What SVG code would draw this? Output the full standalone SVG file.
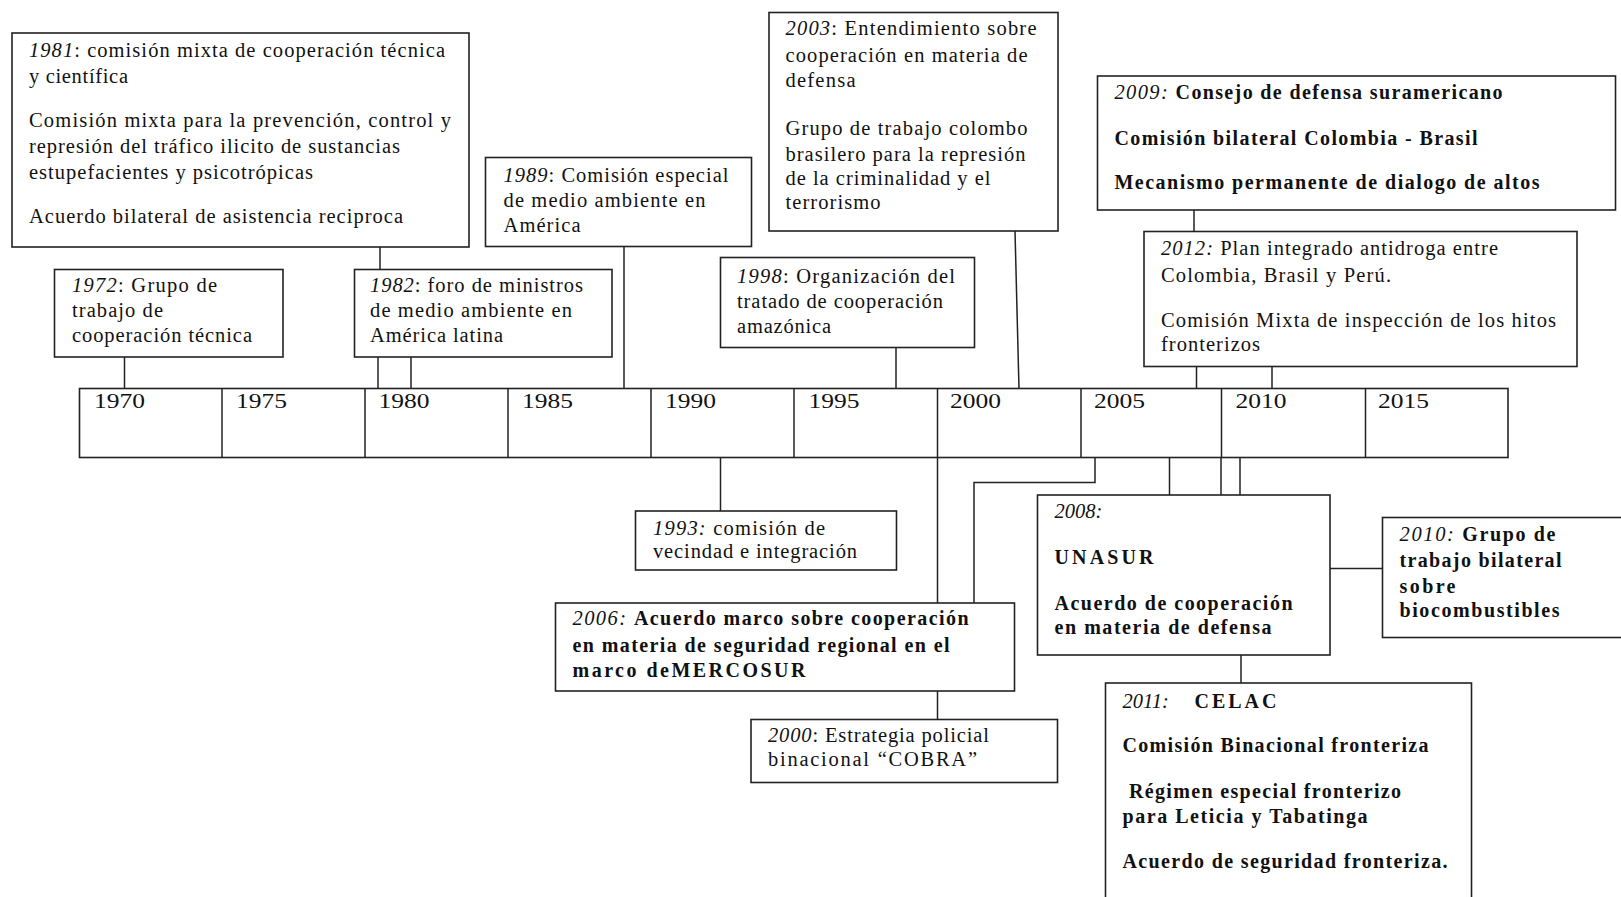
<svg xmlns="http://www.w3.org/2000/svg" width="1621" height="897" viewBox="0 0 1621 897">
<style>
rect.b{fill:#fff;stroke:#222;stroke-width:1.6}
.c line,.c polyline{stroke:#222;stroke-width:1.5;fill:none}
text{font-family:"Liberation Serif","Times New Roman",serif;font-size:20.5px;fill:#111}
text.y{font-size:22px}
.i{font-style:italic}
.bd{font-weight:bold;font-size:20px}
</style>
<rect width="1621" height="897" fill="#fff"/>
<g class="c" id="connectors">
<line x1="124.5" y1="357" x2="124.5" y2="389"/>
<line x1="380" y1="247" x2="380" y2="269"/>
<line x1="378" y1="357" x2="378" y2="390"/>
<line x1="411" y1="357" x2="411" y2="389"/>
<line x1="624" y1="247" x2="624" y2="389"/>
<line x1="896" y1="348" x2="896" y2="389"/>
<line x1="1015" y1="231" x2="1019" y2="389"/>
<line x1="1194" y1="210" x2="1194" y2="232"/>
<line x1="1196.5" y1="367" x2="1196.5" y2="390"/>
<line x1="1272" y1="367" x2="1272" y2="389"/>
<line x1="720.5" y1="457" x2="720.5" y2="511"/>
<line x1="937.5" y1="457" x2="937.5" y2="603"/>
<line x1="937.5" y1="691" x2="937.5" y2="719"/>
<polyline points="1095,457 1095,482.5 974,482.5 974,603"/>
<line x1="1169.5" y1="457" x2="1169.5" y2="495"/>
<line x1="1221" y1="457" x2="1221" y2="495"/>
<line x1="1240" y1="457" x2="1240" y2="495"/>
<line x1="1330" y1="568.5" x2="1382" y2="568.5"/>
<line x1="1241" y1="655" x2="1241" y2="683"/>
</g>
<g id="timeline">
<rect class="b" x="79.5" y="388.5" width="1428.5" height="69"/>
<g class="c">
<line x1="222" y1="388.5" x2="222" y2="457.5"/>
<line x1="365" y1="388.5" x2="365" y2="457.5"/>
<line x1="508" y1="388.5" x2="508" y2="457.5"/>
<line x1="651" y1="388.5" x2="651" y2="457.5"/>
<line x1="794" y1="388.5" x2="794" y2="457.5"/>
<line x1="937.5" y1="388.5" x2="937.5" y2="457.5"/>
<line x1="1081" y1="388.5" x2="1081" y2="457.5"/>
<line x1="1221.5" y1="388.5" x2="1221.5" y2="457.5"/>
<line x1="1365.5" y1="388.5" x2="1365.5" y2="457.5"/>
</g>
<text class="y" x="94" y="408" textLength="51" lengthAdjust="spacingAndGlyphs">1970</text>
<text class="y" x="236" y="408" textLength="51" lengthAdjust="spacingAndGlyphs">1975</text>
<text class="y" x="378.5" y="408" textLength="51" lengthAdjust="spacingAndGlyphs">1980</text>
<text class="y" x="522" y="408" textLength="51" lengthAdjust="spacingAndGlyphs">1985</text>
<text class="y" x="665" y="408" textLength="51" lengthAdjust="spacingAndGlyphs">1990</text>
<text class="y" x="808.5" y="408" textLength="51" lengthAdjust="spacingAndGlyphs">1995</text>
<text class="y" x="950" y="408" textLength="51" lengthAdjust="spacingAndGlyphs">2000</text>
<text class="y" x="1094" y="408" textLength="51" lengthAdjust="spacingAndGlyphs">2005</text>
<text class="y" x="1235.5" y="408" textLength="51" lengthAdjust="spacingAndGlyphs">2010</text>
<text class="y" x="1378" y="408" textLength="51" lengthAdjust="spacingAndGlyphs">2015</text>
</g>
<g id="n1981">
<rect class="b" x="12" y="33" width="457" height="214"/>
<text x="29" y="56.5" textLength="416" lengthAdjust="spacing"><tspan class="i">1981</tspan>: comisión mixta de cooperación técnica</text>
<text x="29" y="82.5" textLength="99" lengthAdjust="spacing">y científica</text>
<text x="29" y="127" textLength="422" lengthAdjust="spacing">Comisión mixta para la prevención, control y</text>
<text x="29" y="153" textLength="371" lengthAdjust="spacing">represión del tráfico ilicito de sustancias</text>
<text x="29" y="179" textLength="284" lengthAdjust="spacing">estupefacientes y psicotrópicas</text>
<text x="29" y="223" textLength="374" lengthAdjust="spacing">Acuerdo bilateral de asistencia reciproca</text>
</g>
<g id="n1972">
<rect class="b" x="54.5" y="269.5" width="228.5" height="87.5"/>
<text x="72" y="291.5" textLength="145" lengthAdjust="spacing"><tspan class="i">1972</tspan>: Grupo de</text>
<text x="72" y="317" textLength="91" lengthAdjust="spacing">trabajo de</text>
<text x="72" y="342" textLength="180" lengthAdjust="spacing">cooperación técnica</text>
</g>
<g id="n1982">
<rect class="b" x="354.5" y="269.5" width="257.5" height="87.5"/>
<text x="370" y="291.5" textLength="213" lengthAdjust="spacing"><tspan class="i">1982</tspan>: foro de ministros</text>
<text x="370" y="317" textLength="202" lengthAdjust="spacing">de medio ambiente en</text>
<text x="370" y="342" textLength="133" lengthAdjust="spacing">América latina</text>
</g>
<g id="n1989">
<rect class="b" x="485.5" y="157.5" width="266" height="89"/>
<text x="503.5" y="181.5" textLength="225" lengthAdjust="spacing"><tspan class="i">1989</tspan>: Comisión especial</text>
<text x="503.5" y="206.5" textLength="202" lengthAdjust="spacing">de medio ambiente en</text>
<text x="503.5" y="231.5" textLength="77" lengthAdjust="spacing">América</text>
</g>
<g id="n2003">
<rect class="b" x="769" y="12.5" width="289" height="218.5"/>
<text x="785.5" y="35" textLength="251" lengthAdjust="spacing"><tspan class="i">2003</tspan>: Entendimiento sobre</text>
<text x="785.5" y="61.5" textLength="242" lengthAdjust="spacing">cooperación en materia de</text>
<text x="785.5" y="87" textLength="70" lengthAdjust="spacing">defensa</text>
<text x="785.5" y="135" textLength="242" lengthAdjust="spacing">Grupo de trabajo colombo</text>
<text x="785.5" y="161" textLength="240" lengthAdjust="spacing">brasilero para la represión</text>
<text x="785.5" y="185" textLength="205" lengthAdjust="spacing">de la criminalidad y el</text>
<text x="785.5" y="209" textLength="95" lengthAdjust="spacing">terrorismo</text>
</g>
<g id="n1998">
<rect class="b" x="720.5" y="257.5" width="254" height="90"/>
<text x="737" y="283" textLength="218" lengthAdjust="spacing"><tspan class="i">1998</tspan>: Organización del</text>
<text x="737" y="308" textLength="206" lengthAdjust="spacing">tratado de cooperación</text>
<text x="737" y="333" textLength="94" lengthAdjust="spacing">amazónica</text>
</g>
<g id="n2009">
<rect class="b" x="1097.5" y="76" width="518" height="134"/>
<text x="1114.5" y="99" textLength="388" lengthAdjust="spacing"><tspan class="i">2009:</tspan> <tspan class="bd">Consejo de defensa suramericano</tspan></text>
<text class="bd" x="1114.5" y="145" textLength="363" lengthAdjust="spacing">Comisión bilateral Colombia - Brasil</text>
<text class="bd" x="1114.5" y="189" textLength="425" lengthAdjust="spacing">Mecanismo permanente de dialogo de altos</text>
</g>
<g id="n2012">
<rect class="b" x="1144" y="231.5" width="433" height="135"/>
<text x="1161" y="255" textLength="337" lengthAdjust="spacing"><tspan class="i">2012:</tspan> Plan integrado antidroga entre</text>
<text x="1161" y="281.5" textLength="230" lengthAdjust="spacing">Colombia, Brasil y Perú.</text>
<text x="1161" y="326.5" textLength="395" lengthAdjust="spacing">Comisión Mixta de inspección de los hitos</text>
<text x="1161" y="351" textLength="99" lengthAdjust="spacing">fronterizos</text>
</g>
<g id="n1993">
<rect class="b" x="635.5" y="511" width="261" height="59"/>
<text x="653" y="535" textLength="172" lengthAdjust="spacing"><tspan class="i">1993:</tspan> comisión de</text>
<text x="653" y="558" textLength="204" lengthAdjust="spacing">vecindad e integración</text>
</g>
<g id="n2006">
<rect class="b" x="555.5" y="603" width="459" height="88"/>
<text x="572.5" y="625" textLength="396" lengthAdjust="spacing"><tspan class="i">2006:</tspan> <tspan class="bd">Acuerdo marco sobre cooperación</tspan></text>
<text class="bd" x="572.5" y="651.5" textLength="377" lengthAdjust="spacing">en materia de seguridad regional en el</text>
<text class="bd" x="572.5" y="676.5" textLength="233" lengthAdjust="spacing">marco deMERCOSUR</text>
</g>
<g id="n2000">
<rect class="b" x="751" y="719.5" width="306.5" height="63"/>
<text x="768" y="741.5" textLength="221" lengthAdjust="spacing"><tspan class="i">2000</tspan>: Estrategia policial</text>
<text x="768" y="766" textLength="209" lengthAdjust="spacing">binacional  “COBRA”</text>
</g>
<g id="n2008">
<rect class="b" x="1037.5" y="495" width="292.5" height="160"/>
<text class="i" x="1054.5" y="518">2008:</text>
<text class="bd" x="1054.5" y="564" textLength="99" lengthAdjust="spacing">UNASUR</text>
<text class="bd" x="1054.5" y="610" textLength="238" lengthAdjust="spacing">Acuerdo de cooperación</text>
<text class="bd" x="1054.5" y="634" textLength="217" lengthAdjust="spacing">en materia de defensa</text>
</g>
<g id="n2010">
<rect class="b" x="1382.5" y="517.5" width="260" height="120"/>
<text x="1399.5" y="541" textLength="156" lengthAdjust="spacing"><tspan class="i">2010:</tspan> <tspan class="bd">Grupo de</tspan></text>
<text class="bd" x="1399.5" y="567" textLength="162" lengthAdjust="spacing">trabajo bilateral</text>
<text class="bd" x="1399.5" y="593" textLength="56" lengthAdjust="spacing">sobre</text>
<text class="bd" x="1399.5" y="617" textLength="160" lengthAdjust="spacing">biocombustibles</text>
</g>
<g id="n2011">
<rect class="b" x="1105.5" y="683" width="366" height="240"/>
<text x="1122.5" y="707.5"><tspan class="i">2011:</tspan><tspan class="bd" x="1194.5" textLength="82" lengthAdjust="spacing">CELAC</tspan></text>
<text class="bd" x="1122.5" y="751.5" textLength="306" lengthAdjust="spacing">Comisión Binacional fronteriza</text>
<text class="bd" x="1129" y="798" textLength="272" lengthAdjust="spacing">Régimen especial fronterizo</text>
<text class="bd" x="1122.5" y="823" textLength="245" lengthAdjust="spacing">para Leticia y Tabatinga</text>
<text class="bd" x="1122.5" y="868" textLength="325" lengthAdjust="spacing">Acuerdo de seguridad fronteriza.</text>
</g>
</svg>
